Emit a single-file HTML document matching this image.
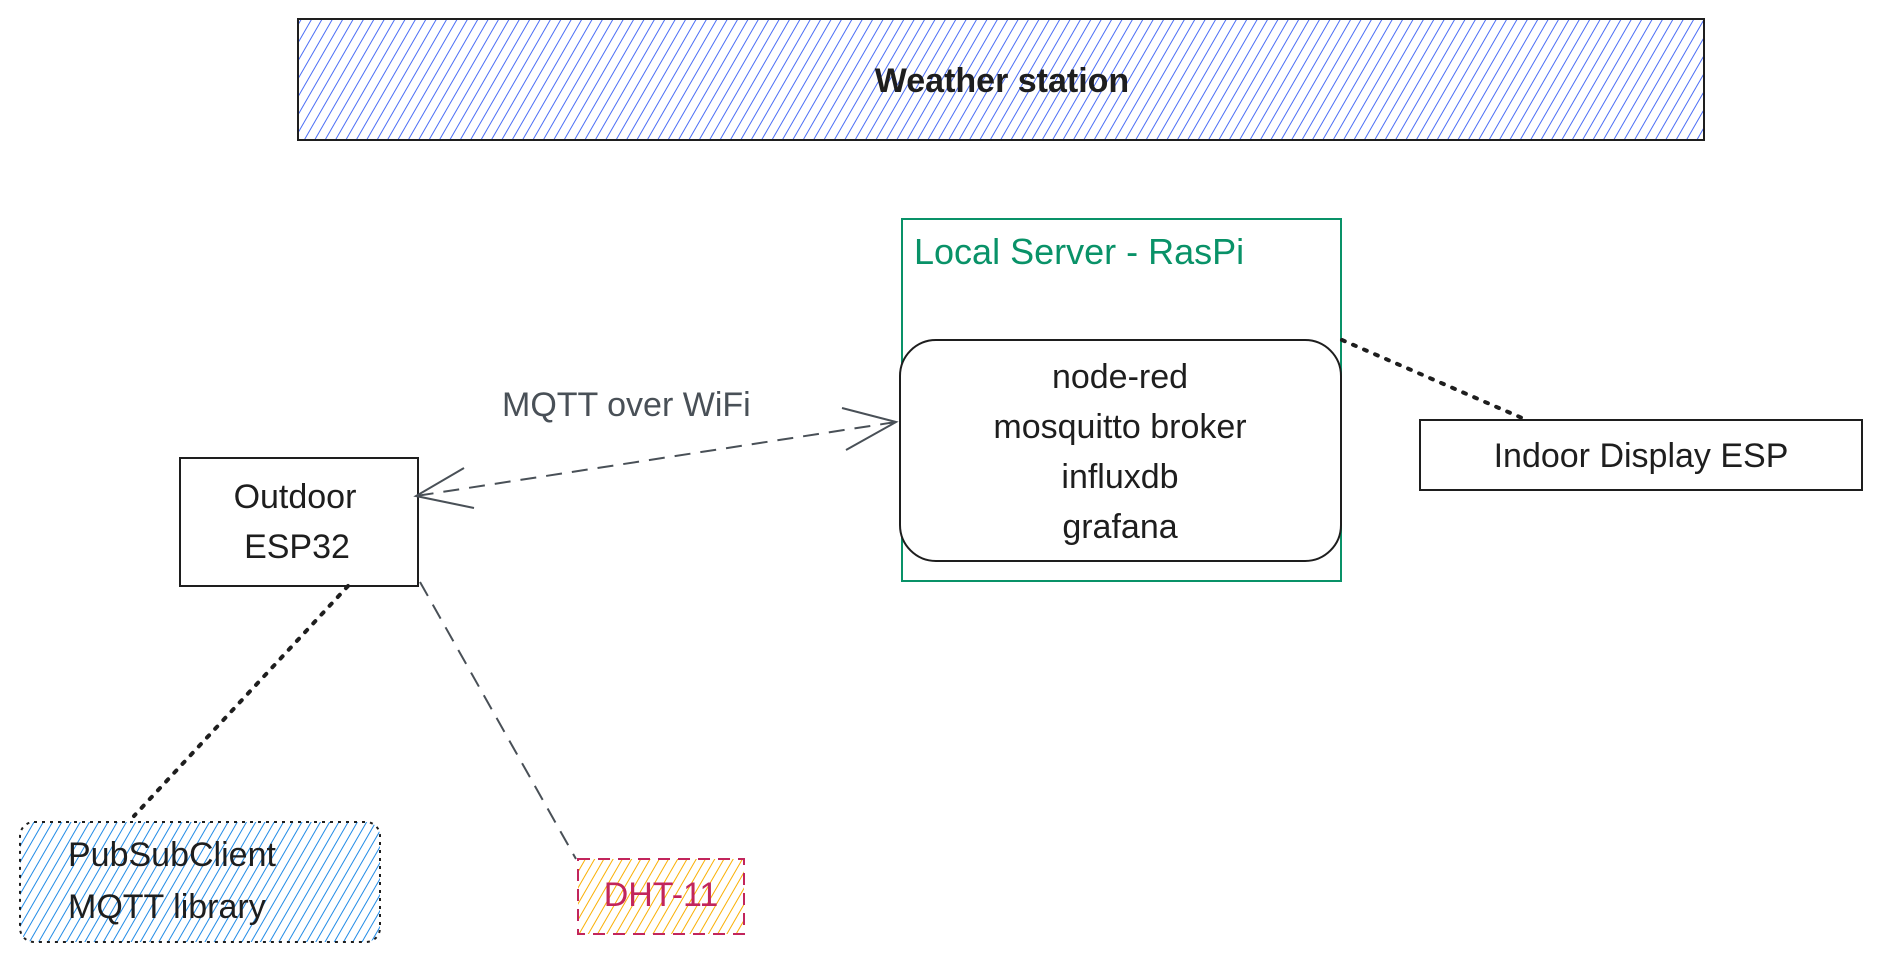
<!DOCTYPE html>
<html><head><meta charset="utf-8"><style>
html,body{margin:0;padding:0;background:#fff;}
svg{display:block;}
text{font-family:"Liberation Sans",sans-serif;}
</style></head><body>
<svg width="1880" height="960" viewBox="0 0 1880 960" xmlns="http://www.w3.org/2000/svg">
<defs>
<pattern id="hb" width="9" height="9" patternUnits="userSpaceOnUse" patternTransform="rotate(30)">
<line x1="0" y1="0" x2="0" y2="9" stroke="#4c6ef5" stroke-width="2"/></pattern>
<pattern id="hc" width="8" height="8" patternUnits="userSpaceOnUse" patternTransform="rotate(30)">
<line x1="0" y1="0" x2="0" y2="8" stroke="#228be6" stroke-width="2"/></pattern>
<pattern id="hy" width="8" height="8" patternUnits="userSpaceOnUse" patternTransform="rotate(30)">
<line x1="0" y1="0" x2="0" y2="8" stroke="#fab005" stroke-width="2"/></pattern>
</defs>
<rect x="298" y="19" width="1406" height="121" fill="url(#hb)" stroke="#1e1e1e" stroke-width="2"/>
<text x="1002" y="92" font-size="34" font-weight="bold" text-anchor="middle" fill="#1e1e1e">Weather station</text>
<rect x="902" y="219" width="439" height="362" fill="none" stroke="#099268" stroke-width="2"/>
<text x="914" y="264" font-size="36" fill="#099268">Local Server - RasPi</text>
<rect x="900" y="340" width="441" height="221" rx="36" fill="#fff" stroke="#1e1e1e" stroke-width="2"/>
<g font-size="34" text-anchor="middle" fill="#1e1e1e">
<text x="1120" y="388">node-red</text>
<text x="1120" y="438">mosquitto broker</text>
<text x="1120" y="488">influxdb</text>
<text x="1120" y="538">grafana</text>
</g>
<rect x="1420" y="420" width="442" height="70" fill="#fff" stroke="#1e1e1e" stroke-width="2"/>
<text x="1641" y="467" font-size="34" text-anchor="middle" fill="#1e1e1e">Indoor Display ESP</text>
<rect x="180" y="458" width="238" height="128" fill="#fff" stroke="#1e1e1e" stroke-width="2"/>
<text x="295" y="508" font-size="34" font-weight="500" text-anchor="middle" fill="#1e1e1e">Outdoor</text>
<text x="297" y="558" font-size="34" font-weight="500" text-anchor="middle" fill="#1e1e1e">ESP32</text>
<rect x="20" y="822" width="360" height="120" rx="14" fill="url(#hc)" stroke="#1e1e1e" stroke-width="2" stroke-dasharray="3 5"/>
<text x="68" y="866" font-size="34" font-weight="500" fill="#1e1e1e">PubSubClient</text>
<text x="68" y="918" font-size="34" font-weight="500" fill="#1e1e1e">MQTT library</text>
<rect x="578" y="859" width="166" height="75" fill="url(#hy)" stroke="#c2255c" stroke-width="2" stroke-dasharray="12 8"/>
<text x="661" y="906" font-size="34" font-weight="500" text-anchor="middle" fill="#c2255c">DHT-11</text>
<line x1="896" y1="422" x2="416" y2="496" stroke="#495057" stroke-width="2" stroke-dasharray="16 10"/>
<polyline points="842,408 896,422 846,450" fill="none" stroke="#495057" stroke-width="2"/>
<polyline points="464,468 416,496 474,508" fill="none" stroke="#495057" stroke-width="2"/>
<text x="502" y="416" font-size="34" fill="#495057">MQTT over WiFi</text>
<line x1="1342" y1="340" x2="1522" y2="418" stroke="#1e1e1e" stroke-width="4" stroke-dasharray="3 9" stroke-linecap="round"/>
<line x1="348" y1="586" x2="134" y2="816" stroke="#1e1e1e" stroke-width="4" stroke-dasharray="3 9" stroke-linecap="round"/>
<line x1="420" y1="582" x2="576" y2="859" stroke="#495057" stroke-width="2" stroke-dasharray="16 10"/>
</svg>
</body></html>
